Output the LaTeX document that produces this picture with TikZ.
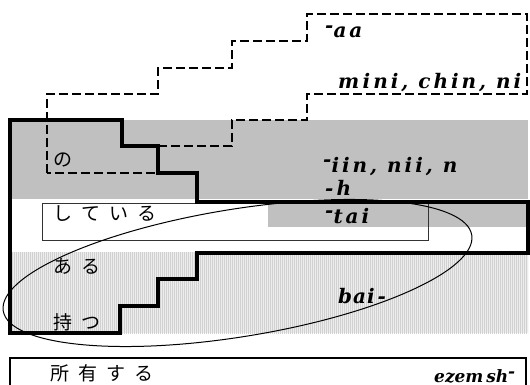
\documentclass[tikz,border=0pt]{standalone}
\usepackage{fontspec}
\usetikzlibrary{patterns.meta}
\newfontfamily\jfont{Noto Sans CJK JP}
\newfontfamily\lfont[LetterSpace=15]{DejaVu Serif}
\newfontfamily\lfonttight{DejaVu Serif}
\newcommand\rh{\raisebox{0.28em}{-}}
\definecolor{band}{RGB}{192,192,192}
\begin{document}
\begin{tikzpicture}[x=1pt,y=-1pt,
  thickline/.style={line width=3.5pt},
  dashline/.style={line width=2pt, dash pattern=on 9pt off 4pt},
  jtext/.style={font=\jfont\fontsize{19}{19}\selectfont, anchor=west, inner sep=0pt},
  ltext/.style={font=\lfont\bfseries\itshape\fontsize{20}{20}\selectfont, anchor=base west, inner sep=0pt}]
\useasboundingbox (0,0) rectangle (530,385);

% shaded bands
\fill[band] (10,120) rectangle (528,199);
\fill[band] (268,203) rectangle (527,227);
\fill[black!7] (10,252) rectangle (528,333);
\fill[pattern={Lines[angle=90,distance=2pt,line width=0.7pt]}, pattern color=black!18]
  (10,252) rectangle (528,333);

% inner frame
\draw[line width=1pt, black!80] (42,203) rectangle (428,240);

% tilted ellipse
\draw[line width=1pt, rotate around={9.2:(237.5,273)}] (237.5,273) ellipse [x radius=237.3pt, y radius=63.8pt];

% dashed staircase
\draw[dashline] (47,173) -- (47,94) -- (158,94) -- (158,68) -- (232,68) -- (232,41)
  -- (307,41) -- (307,14) -- (527,14) -- (527,94) -- (307,94) -- (307,120)
  -- (232,120) -- (232,146) -- (158,146) -- (158,173) -- cycle;

% thick staircase outline
\draw[thickline] (10,120) -- (122,120) -- (122,146) -- (158,146) -- (158,173)
  -- (197,173) -- (197,202) -- (528,202) -- (528,253) -- (197,253) -- (197,279)
  -- (158,279) -- (158,306) -- (120,306) -- (120,333) -- (10,333) -- cycle;

% bottom box
\draw[line width=2.5pt] (10,395) -- (10,358) -- (526,358) -- (526,395);

% labels
\node[ltext] (aa) at (325,38) {\rh aa};
\node[ltext] (mini) at (338,89) {m\,ini, chin, ni};
\node[jtext] (no) at (53,160) {の};
\node[ltext] (iin) at (323,172) {\rh iin, nii, n};
\node[ltext] (h) at (325,195) {-h};
\node[jtext] (shite) at (53,214) {し\kern9ptて\kern9ptい\kern9ptる};
\node[ltext] (tai) at (325,223) {\rh tai};
\node[jtext] (aru) at (53,266) {あ\kern9ptる};
\node[ltext] (bai) at (338,303) {b\kern1pt a\kern1pt i-};
\node[jtext] (motsu) at (53,322) {持\kern9ptつ};
\node[jtext] (shoyu) at (50,373) {所\kern9pt有\kern9ptす\kern9ptる};
\node[ltext, font=\lfonttight\bfseries\itshape\fontsize{17}{17}\selectfont] (ezem) at (434,382) {ezem\,sh\rh};
\end{tikzpicture}
\end{document}
